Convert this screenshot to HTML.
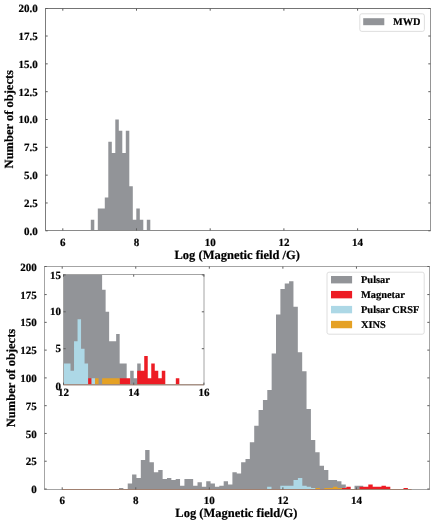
<!DOCTYPE html>
<html><head><meta charset="utf-8"><style>
html,body{margin:0;padding:0;background:#fff;}
svg{display:block;will-change:transform;}
text{font-family:"Liberation Serif", serif;font-weight:bold;fill:#000;text-rendering:geometricPrecision;stroke:#000;stroke-width:0.2px;}
</style></head><body>
<svg width="435" height="525" viewBox="0 0 435 525">
<rect x="0" y="0" width="435" height="525" fill="#fff"/>
<path d="M90.80,230.50 L90.80,219.67 L94.30,219.67 L94.30,230.50 Z M97.80,230.50 L97.80,208.54 L101.30,208.54 L101.30,208.54 L104.80,208.54 L104.80,197.41 L108.30,197.41 L108.30,141.76 L111.80,141.76 L111.80,152.89 L115.30,152.89 L115.30,119.50 L118.80,119.50 L118.80,130.63 L122.30,130.63 L122.30,152.89 L125.80,152.89 L125.80,130.63 L129.30,130.63 L129.30,186.28 L132.80,186.28 L132.80,219.67 L136.30,219.67 L136.30,208.54 L139.80,208.54 L139.80,219.67 L143.30,219.67 L143.30,230.50 Z M146.80,230.50 L146.80,219.67 L150.30,219.67 L150.30,230.50 Z" fill="#929498"/>
<line x1="45.50" y1="8.50" x2="430.50" y2="8.50" stroke="#747474" stroke-width="1" stroke-linecap="square"/>
<line x1="45.50" y1="8.50" x2="45.50" y2="230.50" stroke="#7c7c7c" stroke-width="1" stroke-linecap="square"/>
<line x1="430.50" y1="8.50" x2="430.50" y2="230.50" stroke="#959595" stroke-width="1" stroke-linecap="square"/>
<line x1="45.50" y1="230.50" x2="430.50" y2="230.50" stroke="#8a8a8a" stroke-width="1" stroke-linecap="square"/>
<line x1="62.80" y1="230.50" x2="412.88" y2="230.50" stroke="#8a8a8a" stroke-width="1.2" stroke-linecap="butt"/>
<line x1="62.80" y1="230.50" x2="62.80" y2="228.30" stroke="#5e5e5e" stroke-width="1" stroke-linecap="butt"/>
<line x1="62.80" y1="8.50" x2="62.80" y2="10.70" stroke="#5e5e5e" stroke-width="1" stroke-linecap="butt"/>
<text x="62.80" y="246.10" font-size="11" text-anchor="middle" >6</text>
<line x1="136.50" y1="230.50" x2="136.50" y2="228.30" stroke="#5e5e5e" stroke-width="1" stroke-linecap="butt"/>
<line x1="136.50" y1="8.50" x2="136.50" y2="10.70" stroke="#5e5e5e" stroke-width="1" stroke-linecap="butt"/>
<text x="136.50" y="246.10" font-size="11" text-anchor="middle" >8</text>
<line x1="210.20" y1="230.50" x2="210.20" y2="228.30" stroke="#5e5e5e" stroke-width="1" stroke-linecap="butt"/>
<line x1="210.20" y1="8.50" x2="210.20" y2="10.70" stroke="#5e5e5e" stroke-width="1" stroke-linecap="butt"/>
<text x="210.20" y="246.10" font-size="11" text-anchor="middle" >10</text>
<line x1="283.90" y1="230.50" x2="283.90" y2="228.30" stroke="#5e5e5e" stroke-width="1" stroke-linecap="butt"/>
<line x1="283.90" y1="8.50" x2="283.90" y2="10.70" stroke="#5e5e5e" stroke-width="1" stroke-linecap="butt"/>
<text x="283.90" y="246.10" font-size="11" text-anchor="middle" >12</text>
<line x1="357.60" y1="230.50" x2="357.60" y2="228.30" stroke="#5e5e5e" stroke-width="1" stroke-linecap="butt"/>
<line x1="357.60" y1="8.50" x2="357.60" y2="10.70" stroke="#5e5e5e" stroke-width="1" stroke-linecap="butt"/>
<text x="357.60" y="246.10" font-size="11" text-anchor="middle" >14</text>
<line x1="45.50" y1="230.80" x2="47.70" y2="230.80" stroke="#5e5e5e" stroke-width="1" stroke-linecap="butt"/>
<line x1="430.50" y1="230.80" x2="428.30" y2="230.80" stroke="#5e5e5e" stroke-width="1" stroke-linecap="butt"/>
<text x="37.80" y="234.70" font-size="11" text-anchor="end" >0.0</text>
<line x1="45.50" y1="202.98" x2="47.70" y2="202.98" stroke="#5e5e5e" stroke-width="1" stroke-linecap="butt"/>
<line x1="430.50" y1="202.98" x2="428.30" y2="202.98" stroke="#5e5e5e" stroke-width="1" stroke-linecap="butt"/>
<text x="37.80" y="206.88" font-size="11" text-anchor="end" >2.5</text>
<line x1="45.50" y1="175.15" x2="47.70" y2="175.15" stroke="#5e5e5e" stroke-width="1" stroke-linecap="butt"/>
<line x1="430.50" y1="175.15" x2="428.30" y2="175.15" stroke="#5e5e5e" stroke-width="1" stroke-linecap="butt"/>
<text x="37.80" y="179.05" font-size="11" text-anchor="end" >5.0</text>
<line x1="45.50" y1="147.32" x2="47.70" y2="147.32" stroke="#5e5e5e" stroke-width="1" stroke-linecap="butt"/>
<line x1="430.50" y1="147.32" x2="428.30" y2="147.32" stroke="#5e5e5e" stroke-width="1" stroke-linecap="butt"/>
<text x="37.80" y="151.22" font-size="11" text-anchor="end" >7.5</text>
<line x1="45.50" y1="119.50" x2="47.70" y2="119.50" stroke="#5e5e5e" stroke-width="1" stroke-linecap="butt"/>
<line x1="430.50" y1="119.50" x2="428.30" y2="119.50" stroke="#5e5e5e" stroke-width="1" stroke-linecap="butt"/>
<text x="37.80" y="123.40" font-size="11" text-anchor="end" >10.0</text>
<line x1="45.50" y1="91.68" x2="47.70" y2="91.68" stroke="#5e5e5e" stroke-width="1" stroke-linecap="butt"/>
<line x1="430.50" y1="91.68" x2="428.30" y2="91.68" stroke="#5e5e5e" stroke-width="1" stroke-linecap="butt"/>
<text x="37.80" y="95.58" font-size="11" text-anchor="end" >12.5</text>
<line x1="45.50" y1="63.85" x2="47.70" y2="63.85" stroke="#5e5e5e" stroke-width="1" stroke-linecap="butt"/>
<line x1="430.50" y1="63.85" x2="428.30" y2="63.85" stroke="#5e5e5e" stroke-width="1" stroke-linecap="butt"/>
<text x="37.80" y="67.75" font-size="11" text-anchor="end" >15.0</text>
<line x1="45.50" y1="36.03" x2="47.70" y2="36.03" stroke="#5e5e5e" stroke-width="1" stroke-linecap="butt"/>
<line x1="430.50" y1="36.03" x2="428.30" y2="36.03" stroke="#5e5e5e" stroke-width="1" stroke-linecap="butt"/>
<text x="37.80" y="39.93" font-size="11" text-anchor="end" >17.5</text>
<line x1="45.50" y1="8.50" x2="47.70" y2="8.50" stroke="#5e5e5e" stroke-width="1" stroke-linecap="butt"/>
<line x1="430.50" y1="8.50" x2="428.30" y2="8.50" stroke="#5e5e5e" stroke-width="1" stroke-linecap="butt"/>
<text x="37.80" y="12.10" font-size="11" text-anchor="end" >20.0</text>
<text x="237.20" y="258.80" font-size="12.5" text-anchor="middle" >Log (Magnetic field /G)</text>
<text transform="translate(13.0,119.2) rotate(-90)" x="0" y="0" font-size="12.5" text-anchor="middle">Number of objects</text>
<rect x="359.8" y="13.8" width="64.6" height="17.6" rx="2" fill="#fff" stroke="#d6d6d6" stroke-width="0.8"/>
<rect x="363.20" y="18.20" width="21.10" height="7.00" fill="#929498"/>
<text x="393.00" y="25.00" font-size="10.3" text-anchor="start" >MWD</text>
<path d="M119.00,489.50 L119.00,487.89 L123.36,487.89 L123.36,489.50 Z M127.72,489.50 L127.72,483.44 L132.08,483.44 L132.08,474.56 L136.45,474.56 L136.45,477.89 L140.81,477.89 L140.81,460.11 L145.17,460.11 L145.17,450.12 L149.53,450.12 L149.53,462.34 L153.89,462.34 L153.89,472.33 L158.25,472.33 L158.25,470.11 L162.62,470.11 L162.62,479.00 L166.98,479.00 L166.98,477.89 L171.34,477.89 L171.34,480.11 L175.70,480.11 L175.70,479.00 L180.06,479.00 L180.06,485.67 L184.42,485.67 L184.42,479.00 L188.78,479.00 L188.78,479.00 L193.15,479.00 L193.15,485.67 L197.51,485.67 L197.51,482.33 L201.87,482.33 L201.87,486.78 L206.23,486.78 L206.23,481.22 L210.59,481.22 L210.59,483.44 L214.95,483.44 L214.95,486.78 L219.31,486.78 L219.31,485.67 L223.68,485.67 L223.68,481.22 L228.04,481.22 L228.04,484.56 L232.40,484.56 L232.40,472.33 L236.76,472.33 L236.76,473.45 L241.12,473.45 L241.12,462.34 L245.48,462.34 L245.48,459.00 L249.84,459.00 L249.84,442.34 L254.21,442.34 L254.21,425.67 L258.57,425.67 L258.57,410.12 L262.93,410.12 L262.93,400.12 L267.29,400.12 L267.29,390.12 L271.65,390.12 L271.65,353.46 L276.01,353.46 L276.01,314.57 L280.38,314.57 L280.38,289.02 L284.74,289.02 L284.74,283.47 L289.10,283.47 L289.10,281.24 L293.46,281.24 L293.46,306.80 L297.82,306.80 L297.82,352.35 L302.18,352.35 L302.18,371.23 L306.54,371.23 L306.54,409.01 L310.91,409.01 L310.91,440.12 L315.27,440.12 L315.27,452.34 L319.63,452.34 L319.63,465.67 L323.99,465.67 L323.99,470.11 L328.35,470.11 L328.35,480.11 L332.71,480.11 L332.71,480.11 L337.08,480.11 L337.08,481.22 L341.44,481.22 L341.44,484.56 L345.80,484.56 L345.80,489.50 Z M354.52,489.50 L354.52,485.67 L358.88,485.67 L358.88,485.67 L363.24,485.67 L363.24,489.50 Z" fill="#929498"/>
<path d="M341.90,489.50 L341.90,487.89 L346.30,487.89 L346.30,486.78 L350.70,486.78 L350.70,489.50 Z M359.50,489.50 L359.50,486.78 L363.90,486.78 L363.90,486.78 L368.30,486.78 L368.30,484.56 L372.70,484.56 L372.70,486.78 L377.10,486.78 L377.10,486.78 L381.50,486.78 L381.50,485.67 L385.90,485.67 L385.90,486.78 L390.30,486.78 L390.30,489.50 Z M403.50,489.50 L403.50,487.89 L407.90,487.89 L407.90,489.50 Z" fill="#ed1c24"/>
<path d="M267.10,489.50 L267.10,486.78 L271.50,486.78 L271.50,489.50 Z M280.30,489.50 L280.30,485.67 L284.70,485.67 L284.70,485.67 L289.10,485.67 L289.10,485.67 L293.50,485.67 L293.50,480.11 L297.90,480.11 L297.90,477.89 L302.30,477.89 L302.30,485.67 L306.70,485.67 L306.70,486.78 L311.10,486.78 L311.10,487.89 L315.50,487.89 L315.50,489.50 Z" fill="#add8e6"/>
<path d="M315.50,489.50 L315.50,487.89 L319.90,487.89 L319.90,489.50 Z M324.30,489.50 L324.30,487.89 L328.70,487.89 L328.70,487.89 L333.10,487.89 L333.10,486.78 L337.50,486.78 L337.50,487.89 L341.90,487.89 L341.90,489.50 Z" fill="#e5a124"/>
<rect x="44.5" y="266.5" width="385.0" height="223.0" fill="none" stroke="#a4a4a4" stroke-width="1"/>
<line x1="62.20" y1="489.50" x2="411.61" y2="489.50" stroke="#a08070" stroke-width="1.0" stroke-linecap="butt"/>
<line x1="62.20" y1="489.50" x2="62.20" y2="487.30" stroke="#5e5e5e" stroke-width="1" stroke-linecap="butt"/>
<line x1="62.20" y1="266.50" x2="62.20" y2="268.70" stroke="#5e5e5e" stroke-width="1" stroke-linecap="butt"/>
<text x="62.20" y="504.30" font-size="11" text-anchor="middle" >6</text>
<line x1="135.76" y1="489.50" x2="135.76" y2="487.30" stroke="#5e5e5e" stroke-width="1" stroke-linecap="butt"/>
<line x1="135.76" y1="266.50" x2="135.76" y2="268.70" stroke="#5e5e5e" stroke-width="1" stroke-linecap="butt"/>
<text x="135.76" y="504.30" font-size="11" text-anchor="middle" >8</text>
<line x1="209.32" y1="489.50" x2="209.32" y2="487.30" stroke="#5e5e5e" stroke-width="1" stroke-linecap="butt"/>
<line x1="209.32" y1="266.50" x2="209.32" y2="268.70" stroke="#5e5e5e" stroke-width="1" stroke-linecap="butt"/>
<text x="209.32" y="504.30" font-size="11" text-anchor="middle" >10</text>
<line x1="282.88" y1="489.50" x2="282.88" y2="487.30" stroke="#5e5e5e" stroke-width="1" stroke-linecap="butt"/>
<line x1="282.88" y1="266.50" x2="282.88" y2="268.70" stroke="#5e5e5e" stroke-width="1" stroke-linecap="butt"/>
<text x="282.88" y="504.30" font-size="11" text-anchor="middle" >12</text>
<line x1="356.44" y1="489.50" x2="356.44" y2="487.30" stroke="#5e5e5e" stroke-width="1" stroke-linecap="butt"/>
<line x1="356.44" y1="266.50" x2="356.44" y2="268.70" stroke="#5e5e5e" stroke-width="1" stroke-linecap="butt"/>
<text x="356.44" y="504.30" font-size="11" text-anchor="middle" >14</text>
<line x1="44.50" y1="489.00" x2="46.70" y2="489.00" stroke="#5e5e5e" stroke-width="1" stroke-linecap="butt"/>
<line x1="429.50" y1="489.00" x2="427.30" y2="489.00" stroke="#5e5e5e" stroke-width="1" stroke-linecap="butt"/>
<text x="36.70" y="493.10" font-size="11" text-anchor="end" >0</text>
<line x1="44.50" y1="461.23" x2="46.70" y2="461.23" stroke="#5e5e5e" stroke-width="1" stroke-linecap="butt"/>
<line x1="429.50" y1="461.23" x2="427.30" y2="461.23" stroke="#5e5e5e" stroke-width="1" stroke-linecap="butt"/>
<text x="36.70" y="465.33" font-size="11" text-anchor="end" >25</text>
<line x1="44.50" y1="433.45" x2="46.70" y2="433.45" stroke="#5e5e5e" stroke-width="1" stroke-linecap="butt"/>
<line x1="429.50" y1="433.45" x2="427.30" y2="433.45" stroke="#5e5e5e" stroke-width="1" stroke-linecap="butt"/>
<text x="36.70" y="437.55" font-size="11" text-anchor="end" >50</text>
<line x1="44.50" y1="405.68" x2="46.70" y2="405.68" stroke="#5e5e5e" stroke-width="1" stroke-linecap="butt"/>
<line x1="429.50" y1="405.68" x2="427.30" y2="405.68" stroke="#5e5e5e" stroke-width="1" stroke-linecap="butt"/>
<text x="36.70" y="409.78" font-size="11" text-anchor="end" >75</text>
<line x1="44.50" y1="377.90" x2="46.70" y2="377.90" stroke="#5e5e5e" stroke-width="1" stroke-linecap="butt"/>
<line x1="429.50" y1="377.90" x2="427.30" y2="377.90" stroke="#5e5e5e" stroke-width="1" stroke-linecap="butt"/>
<text x="36.70" y="382.00" font-size="11" text-anchor="end" >100</text>
<line x1="44.50" y1="350.12" x2="46.70" y2="350.12" stroke="#5e5e5e" stroke-width="1" stroke-linecap="butt"/>
<line x1="429.50" y1="350.12" x2="427.30" y2="350.12" stroke="#5e5e5e" stroke-width="1" stroke-linecap="butt"/>
<text x="36.70" y="354.23" font-size="11" text-anchor="end" >125</text>
<line x1="44.50" y1="322.35" x2="46.70" y2="322.35" stroke="#5e5e5e" stroke-width="1" stroke-linecap="butt"/>
<line x1="429.50" y1="322.35" x2="427.30" y2="322.35" stroke="#5e5e5e" stroke-width="1" stroke-linecap="butt"/>
<text x="36.70" y="326.45" font-size="11" text-anchor="end" >150</text>
<line x1="44.50" y1="294.57" x2="46.70" y2="294.57" stroke="#5e5e5e" stroke-width="1" stroke-linecap="butt"/>
<line x1="429.50" y1="294.57" x2="427.30" y2="294.57" stroke="#5e5e5e" stroke-width="1" stroke-linecap="butt"/>
<text x="36.70" y="298.68" font-size="11" text-anchor="end" >175</text>
<line x1="44.50" y1="266.50" x2="46.70" y2="266.50" stroke="#5e5e5e" stroke-width="1" stroke-linecap="butt"/>
<line x1="429.50" y1="266.50" x2="427.30" y2="266.50" stroke="#5e5e5e" stroke-width="1" stroke-linecap="butt"/>
<text x="36.70" y="270.90" font-size="11" text-anchor="end" >200</text>
<text x="236.40" y="517.00" font-size="12.5" text-anchor="middle" >Log (Magnetic field/G)</text>
<text transform="translate(15.0,378) rotate(-90)" x="0" y="0" font-size="12.5" text-anchor="middle">Number of objects</text>
<rect x="327.0" y="272.2" width="97.2" height="62" rx="2" fill="#fff" stroke="#d6d6d6" stroke-width="0.8"/>
<rect x="331.00" y="276.00" width="21.10" height="7.40" fill="#929498"/>
<text x="361.00" y="283.20" font-size="10.4" text-anchor="start" >Pulsar</text>
<rect x="331.00" y="290.95" width="21.10" height="7.40" fill="#ed1c24"/>
<text x="361.00" y="298.15" font-size="10.4" text-anchor="start" >Magnetar</text>
<rect x="331.00" y="305.90" width="21.10" height="7.40" fill="#add8e6"/>
<text x="361.00" y="313.10" font-size="10.4" text-anchor="start" >Pulsar CRSF</text>
<rect x="331.00" y="320.85" width="21.10" height="7.40" fill="#e5a124"/>
<text x="361.00" y="328.05" font-size="10.4" text-anchor="start" >XINS</text>
<rect x="63.5" y="274.5" width="140.5" height="110.30000000000001" fill="#fff"/>
<path d="M63.50,384.80 L63.50,274.50 L67.01,274.50 L67.01,274.50 L70.52,274.50 L70.52,274.50 L74.03,274.50 L74.03,274.50 L77.54,274.50 L77.54,274.50 L81.05,274.50 L81.05,274.50 L84.56,274.50 L84.56,274.50 L88.07,274.50 L88.07,274.50 L91.58,274.50 L91.58,274.50 L95.09,274.50 L95.09,274.50 L98.60,274.50 L98.60,274.50 L102.11,274.50 L102.11,289.66 L105.62,289.66 L105.62,311.80 L109.13,311.80 L109.13,341.32 L112.64,341.32 L112.64,341.32 L116.15,341.32 L116.15,333.94 L119.66,333.94 L119.66,363.46 L123.17,363.46 L123.17,363.46 L126.68,363.46 L126.68,384.80 Z M130.19,384.80 L130.19,370.84 L133.70,370.84 L133.70,378.22 L137.21,378.22 L137.21,363.46 L140.72,363.46 L140.72,384.80 Z" fill="#929498"/>
<path d="M88.07,384.80 L88.07,378.22 L91.58,378.22 L91.58,384.80 Z M119.66,384.80 L119.66,378.22 L123.17,378.22 L123.17,378.22 L126.68,378.22 L126.68,378.22 L130.19,378.22 L130.19,384.80 Z M137.21,384.80 L137.21,370.84 L140.72,370.84 L140.72,370.84 L144.23,370.84 L144.23,356.08 L147.74,356.08 L147.74,378.22 L151.25,378.22 L151.25,363.46 L154.76,363.46 L154.76,370.84 L158.27,370.84 L158.27,378.22 L161.78,378.22 L161.78,370.84 L165.29,370.84 L165.29,384.80 Z M175.82,384.80 L175.82,378.22 L179.33,378.22 L179.33,384.80 Z" fill="#ed1c24"/>
<path d="M63.50,384.80 L63.50,363.46 L67.01,363.46 L67.01,363.46 L70.52,363.46 L70.52,370.84 L74.03,370.84 L74.03,341.32 L77.54,341.32 L77.54,319.18 L81.05,319.18 L81.05,348.70 L84.56,348.70 L84.56,363.46 L88.07,363.46 L88.07,384.80 Z M91.58,384.80 L91.58,378.22 L95.09,378.22 L95.09,384.80 Z" fill="#add8e6"/>
<path d="M95.09,384.80 L95.09,378.22 L98.60,378.22 L98.60,384.80 Z M102.11,384.80 L102.11,378.22 L105.62,378.22 L105.62,378.22 L109.13,378.22 L109.13,378.22 L112.64,378.22 L112.64,378.22 L116.15,378.22 L116.15,378.22 L119.66,378.22 L119.66,384.80 Z" fill="#e5a124"/>
<rect x="63.5" y="274.5" width="140.5" height="110.30000000000001" fill="none" stroke="#a4a4a4" stroke-width="1"/>
<line x1="63.50" y1="384.80" x2="204.00" y2="384.80" stroke="#a08070" stroke-width="1.0" stroke-linecap="butt"/>
<line x1="63.50" y1="384.80" x2="63.50" y2="382.60" stroke="#5e5e5e" stroke-width="1" stroke-linecap="butt"/>
<line x1="63.50" y1="274.50" x2="63.50" y2="276.70" stroke="#5e5e5e" stroke-width="1" stroke-linecap="butt"/>
<text x="63.50" y="395.50" font-size="11" text-anchor="middle" >12</text>
<line x1="133.70" y1="384.80" x2="133.70" y2="382.60" stroke="#5e5e5e" stroke-width="1" stroke-linecap="butt"/>
<line x1="133.70" y1="274.50" x2="133.70" y2="276.70" stroke="#5e5e5e" stroke-width="1" stroke-linecap="butt"/>
<text x="133.70" y="395.50" font-size="11" text-anchor="middle" >14</text>
<line x1="203.90" y1="384.80" x2="203.90" y2="382.60" stroke="#5e5e5e" stroke-width="1" stroke-linecap="butt"/>
<line x1="203.90" y1="274.50" x2="203.90" y2="276.70" stroke="#5e5e5e" stroke-width="1" stroke-linecap="butt"/>
<text x="203.90" y="395.50" font-size="11" text-anchor="middle" >16</text>
<line x1="63.50" y1="348.70" x2="65.70" y2="348.70" stroke="#5e5e5e" stroke-width="1" stroke-linecap="butt"/>
<line x1="204.00" y1="348.70" x2="201.80" y2="348.70" stroke="#5e5e5e" stroke-width="1" stroke-linecap="butt"/>
<line x1="63.50" y1="311.80" x2="65.70" y2="311.80" stroke="#5e5e5e" stroke-width="1" stroke-linecap="butt"/>
<line x1="204.00" y1="311.80" x2="201.80" y2="311.80" stroke="#5e5e5e" stroke-width="1" stroke-linecap="butt"/>
<line x1="63.50" y1="274.90" x2="65.70" y2="274.90" stroke="#5e5e5e" stroke-width="1" stroke-linecap="butt"/>
<line x1="204.00" y1="274.90" x2="201.80" y2="274.90" stroke="#5e5e5e" stroke-width="1" stroke-linecap="butt"/>
<text x="61.00" y="390.20" font-size="11" text-anchor="end" >0</text>
<text x="61.00" y="352.30" font-size="11" text-anchor="end" >5</text>
<text x="61.00" y="315.40" font-size="11" text-anchor="end" >10</text>
<text x="61.00" y="278.50" font-size="11" text-anchor="end" >15</text>
</svg>
</body></html>
